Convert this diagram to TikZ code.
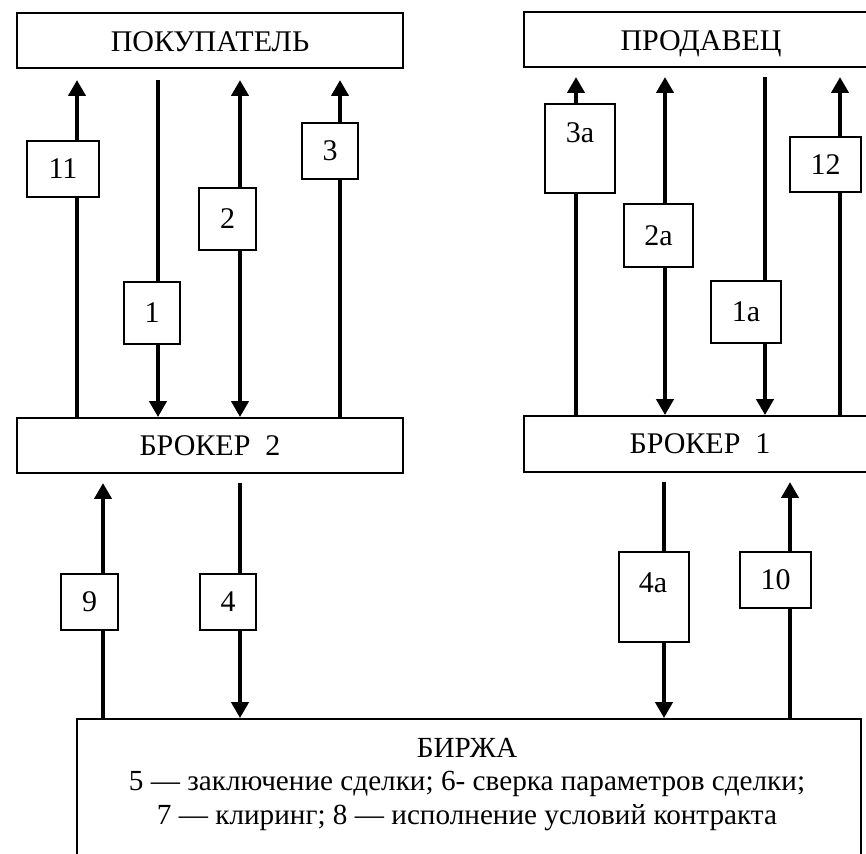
\documentclass[tikz,border=0pt]{standalone}
\usepackage{fontspec}
\setmainfont{Liberation Serif}
\usetikzlibrary{arrows.meta,backgrounds}
\begin{document}
\begin{tikzpicture}[x=0.5pt,y=-0.5pt,
  every node/.style={font=\fontsize{15}{16.3}\selectfont},
  bigbox/.style={draw,line width=0.9pt,fill=white,inner sep=0pt},
  lblbox/.style={draw,line width=0.9pt,fill=white,inner sep=0pt},
  txt/.style={inner sep=0pt,anchor=base},
  arr/.style={line width=2pt,-{Triangle[length=8pt,width=8.5pt]}},
  dbl/.style={line width=2pt,{Triangle[length=8pt,width=8.5pt]}-{Triangle[length=8pt,width=8.5pt]}},
  plain/.style={line width=2pt}]
\useasboundingbox (0,0) rectangle (866,854);

% main boxes
\node[bigbox,minimum width=193pt,minimum height=27.5pt] (buyerbox) at (210,40.5) {};
\node[txt] (buyer) at (210,52) {ПОКУПАТЕЛЬ};
\node[bigbox,minimum width=178pt,minimum height=27.5pt] (sellerbox) at (702,39.5) {};
\node[txt] (seller) at (701,51) {ПРОДАВЕЦ};
\node[bigbox,minimum width=193pt,minimum height=27.5pt] (broker2box) at (210,445.5) {};
\node[txt] (broker2) at (210,456) {БРОКЕР\ \ 2};
\node[bigbox,minimum width=178pt,minimum height=28pt] (broker1box) at (702,444) {};
\node[txt] (broker1) at (700,454) {БРОКЕР\ \ 1};
\node[bigbox,minimum width=392pt,minimum height=80pt] (birzha) at (469,799) {};
\node[inner sep=0pt,align=center,anchor=north,font=\fontsize{14.6}{16.6}\selectfont] (birzhatext) at (467,738)
  {БИРЖА\\5 — заключение сделки; 6- сверка параметров сделки;\\7 — клиринг; 8 — исполнение условий контракта};

% line positions (free ends)
\coordinate (x11) at (77,80);
\coordinate (x1) at (158,80);
\coordinate (x2) at (240,80);
\coordinate (x3) at (340,80);
\coordinate (x3a) at (576,77);
\coordinate (x2a) at (665,77);
\coordinate (x1a) at (765,77);
\coordinate (x12) at (840,77);
\coordinate (x9) at (103,483);
\coordinate (x4) at (240,483);
\coordinate (x4a) at (664,482);
\coordinate (x10) at (790,482);

% connectors
\begin{scope}[on background layer]
\draw[arr] (broker2box.north -| x11) -- (x11);
\draw[arr] (x1) -- (broker2box.north -| x1);
\draw[dbl] (x2) -- (broker2box.north -| x2);
\draw[arr] (broker2box.north -| x3) -- (x3);
\draw[arr] (broker1box.north -| x3a) -- (x3a);
\draw[dbl] (x2a) -- (broker1box.north -| x2a);
\draw[arr] (x1a) -- (broker1box.north -| x1a);
\draw[arr] (broker1box.north -| x12) -- (x12);
\draw[arr] (birzha.north -| x9) -- (x9);
\draw[arr] (x4) -- (birzha.north -| x4);
\draw[arr] (x4a) -- (birzha.north -| x4a);
\draw[arr] (birzha.north -| x10) -- (x10);
\end{scope}

% label boxes
\node[lblbox,minimum width=36pt,minimum height=28pt] (l11) at (63,169) {11};
\node[lblbox,minimum width=28pt,minimum height=31pt] (l1) at (152,313) {1};
\node[lblbox,minimum width=28.5pt,minimum height=31pt] (l2) at (227.5,219) {2};
\node[lblbox,minimum width=28pt,minimum height=28pt] (l3) at (330,151) {3};
\node[lblbox,minimum width=35pt,minimum height=44.5pt] (l3abox) at (580,148.5) {};
\node[txt] (l3a) at (580,143) {3a};
\node[lblbox,minimum width=34.5pt,minimum height=31.5pt] (l2a) at (658.5,235.5) {2a};
\node[lblbox,minimum width=35pt,minimum height=31pt] (l1a) at (746,312) {1a};
\node[lblbox,minimum width=35.5pt,minimum height=27.5pt] (l12) at (825.5,164.5) {12};
\node[lblbox,minimum width=28.5pt,minimum height=28pt] (l9) at (89.5,602) {9};
\node[lblbox,minimum width=28pt,minimum height=28pt] (l4) at (228,602) {4};
\node[lblbox,minimum width=35pt,minimum height=45pt] (l4abox) at (654,597) {};
\node[txt] (l4a) at (653,592) {4a};
\node[lblbox,minimum width=35.5pt,minimum height=28pt] (l10) at (775.5,580) {10};
\end{tikzpicture}
\end{document}
